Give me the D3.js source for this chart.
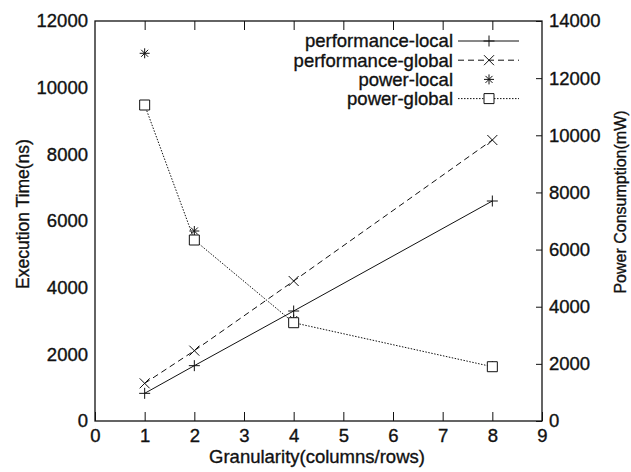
<!DOCTYPE html>
<html>
<head>
<meta charset="utf-8">
<script src="https://cdn.jsdelivr.net/npm/d3@7"></script>
<style>
  body { margin: 0; background: #fff; }
  svg text { font-family: "Liberation Sans", Arial, sans-serif; fill: #111; stroke: #111; stroke-width: 0.35px; }
</style>
</head>
<body>
<div id="chart"></div>
<script>
  const granularity = [1, 2, 4, 8];
  const perfLocal = [830, 1660, 3300, 6600];
  const perfGlobal = [1130, 2110, 4200, 8430];
  const powerLocal = [12870, 6650, 3550, 1925];
  const powerGlobal = [11060, 6335, 3440, 1900];

  const xTicks = [0, 1, 2, 3, 4, 5, 6, 7, 8, 9];
  const yTicks = [0, 2000, 4000, 6000, 8000, 10000, 12000];
  const y2Ticks = [0, 2000, 4000, 6000, 8000, 10000, 12000, 14000];

  const width = 631;
  const height = 472;
  const margin = { top: 21, right: 89, bottom: 51, left: 95 };

  const svg = d3
    .select("#chart")
    .append("svg")
    .attr("width", width)
    .attr("height", height);

  const x = d3.scaleLinear().domain([0, 9]).range([margin.left, width - margin.right]);
  const y = d3.scaleLinear().domain([0, 12000]).range([height - margin.bottom, margin.top]);
  const y2 = d3.scaleLinear().domain([0, 14000]).range([height - margin.bottom, margin.top]);

  const ink = "#111";

  // frame
  svg
    .append("rect")
    .attr("x", x(0))
    .attr("y", y(12000))
    .attr("width", x(9) - x(0))
    .attr("height", y(0) - y(12000))
    .attr("fill", "none")
    .attr("stroke", ink)
    .attr("stroke-width", 1.3);

  // bottom axis, ticks inward
  const xAxis = svg
    .append("g")
    .attr("transform", `translate(0,${y(0)})`)
    .call(d3.axisBottom(x).tickValues(xTicks).tickSize(-9).tickPadding(6).tickFormat(d3.format("d")));
  xAxis.select(".domain").remove();
  xAxis.selectAll("line").attr("stroke", ink);
  xAxis.selectAll("text").attr("font-size", 18.5).attr("dy", "0.95em").attr("y", 3);

  // top mirrored ticks
  const xTop = svg
    .append("g")
    .attr("transform", `translate(0,${y(12000)})`)
    .call(d3.axisTop(x).tickValues(xTicks.slice(1, -1)).tickSize(-9).tickFormat(""));
  xTop.select(".domain").remove();
  xTop.selectAll("line").attr("stroke", ink);

  // left axis, labels only
  const yAxis = svg
    .append("g")
    .attr("transform", `translate(${x(0)},0)`)
    .call(d3.axisLeft(y).tickValues(yTicks).tickSize(0).tickPadding(7).tickFormat(d3.format("d")));
  yAxis.select(".domain").remove();
  yAxis.selectAll("text").attr("font-size", 18.5);

  // right axis, ticks inward
  const y2Axis = svg
    .append("g")
    .attr("transform", `translate(${x(9)},0)`)
    .call(d3.axisRight(y2).tickValues(y2Ticks).tickSize(-6).tickPadding(7).tickFormat(d3.format("d")));
  y2Axis.select(".domain").remove();
  y2Axis.selectAll("line").attr("stroke", ink);
  y2Axis.selectAll("text").attr("font-size", 18.5);

  // axis titles
  svg
    .append("text")
    .attr("x", 317)
    .attr("y", 463)
    .attr("text-anchor", "middle")
    .attr("font-size", 18.5)
    .text("Granularity(columns/rows)");

  svg
    .append("text")
    .attr("transform", "translate(29,214) rotate(-90)")
    .attr("text-anchor", "middle")
    .attr("font-size", 17.5)
    .text("Execution Time(ns)");

  svg
    .append("text")
    .attr("transform", "translate(626,202) rotate(-90)")
    .attr("text-anchor", "middle")
    .attr("font-size", 16)
    .text("Power Consumption(mW)");

  // markers
  const markers = {
    plus: (s) => `M${-s},0H${s}M0,${-s}V${s}`,
    cross: (s) => `M${-s},${-s}L${s},${s}M${-s},${s}L${s},${-s}`,
    star: (s) => `M${-s},0H${s}M0,${-s}V${s}M${-s * 0.7},${-s * 0.7}L${s * 0.7},${s * 0.7}M${-s * 0.7},${s * 0.7}L${s * 0.7},${-s * 0.7}`,
    square: (s) => `M${-s},${-s}H${s}V${s}H${-s}Z`,
  };

  const series = [
    { name: "performance-local", values: perfLocal, scale: y, dash: null, line: true, marker: "plus", size: 5.5 },
    { name: "performance-global", values: perfGlobal, scale: y, dash: "6,4", line: true, marker: "cross", size: 5 },
    { name: "power-local", values: powerLocal, scale: y2, dash: null, line: false, marker: "star", size: 5 },
    { name: "power-global", values: powerGlobal, scale: y2, dash: "1.5,1.5", line: true, marker: "square", size: 5 },
  ];

  series.forEach((s) => {
    const pts = granularity.map((g, i) => [x(g), s.scale(s.values[i])]);

    if (s.line) {
      svg
        .append("path")
        .attr("d", d3.line()(pts))
        .attr("fill", "none")
        .attr("stroke", ink)
        .attr("stroke-width", 1)
        .attr("stroke-dasharray", s.dash);
    }

    svg
      .selectAll(null)
      .data(pts)
      .enter()
      .append("path")
      .attr("transform", (d) => `translate(${d[0]},${d[1]})`)
      .attr("d", markers[s.marker](s.size))
      .attr("fill", s.marker === "square" ? "#fff" : "none")
      .attr("stroke", ink)
      .attr("stroke-width", 1);
  });

  // legend
  const legend = svg.append("g");
  series.forEach((s, i) => {
    const ly = 41 + i * 19.2;

    legend
      .append("text")
      .attr("x", 453)
      .attr("y", ly)
      .attr("dy", "0.35em")
      .attr("text-anchor", "end")
      .attr("font-size", 18.5)
      .text(s.name);

    if (s.line) {
      legend
        .append("line")
        .attr("x1", 458)
        .attr("x2", 519)
        .attr("y1", ly)
        .attr("y2", ly)
        .attr("stroke", ink)
        .attr("stroke-width", 1)
        .attr("stroke-dasharray", s.dash);
    }

    legend
      .append("path")
      .attr("transform", `translate(489,${ly})`)
      .attr("d", markers[s.marker](s.size))
      .attr("fill", s.marker === "square" ? "#fff" : "none")
      .attr("stroke", ink)
      .attr("stroke-width", 1);
  });
</script>
</body>
</html>
